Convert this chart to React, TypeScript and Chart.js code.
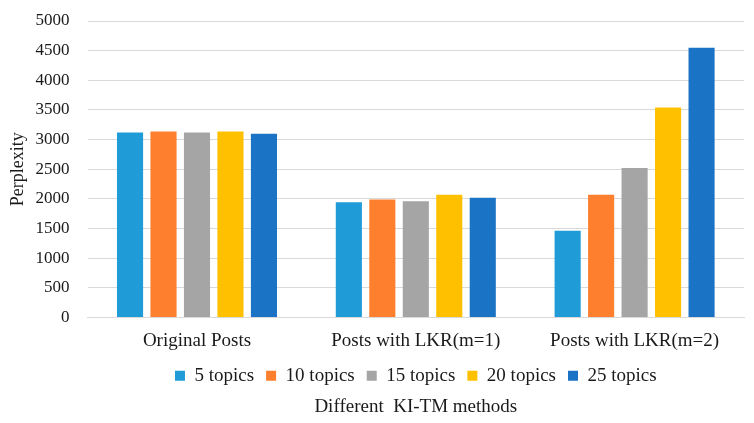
import Chart from "chart.js/auto";
import { useEffect, useRef } from "react";

const methods = ["Original Posts", "Posts with LKR(m=1)", "Posts with LKR(m=2)"];
const topicLabels = ["5 topics", "10 topics", "15 topics", "20 topics", "25 topics"];
const topics5 = [3118, 1943, 1460];
const topics10 = [3135, 1990, 2070];
const topics15 = [3118, 1960, 2520];
const topics20 = [3135, 2070, 3540];
const topics25 = [3100, 2020, 4550];
const colors = ["#1F9BD7", "#FE7F2D", "#A5A5A5", "#FFC000", "#1A73C5"];

const font = "'Liberation Serif', 'Times New Roman', serif";
const textColor = "#1a1a1a";

export default function App() {
  const canvasRef = useRef<HTMLCanvasElement>(null);

  useEffect(() => {
    document.body.style.margin = "0";
    if (!canvasRef.current) return;

    const series = [topics5, topics10, topics15, topics20, topics25];

    const chart = new Chart(canvasRef.current, {
      type: "bar",
      data: {
        labels: methods,
        datasets: series.map((values, i) => ({
          label: topicLabels[i],
          data: values,
          backgroundColor: colors[i],
          categoryPercentage: 0.765,
          barPercentage: 0.78,
        })),
      },
      options: {
        animation: false,
        responsive: false,
        layout: { padding: { top: 21, right: 10, left: 7, bottom: 5 } },
        scales: {
          x: {
            // tick padding is counted twice by Chart.js, so use tickLength for the gap
            grid: { display: false, drawTicks: true, tickLength: 10 },
            border: { color: "#D9D9D9" },
            ticks: { color: textColor, font: { family: font, size: 19 }, padding: 2 },
          },
          y: {
            min: 0,
            max: 5000,
            ticks: {
              stepSize: 500,
              color: textColor,
              font: { family: font, size: 17 },
              padding: 4,
              callback: (value) => `${value}`,
            },
            grid: { color: "#D9D9D9", drawTicks: true, tickLength: 14, tickColor: "transparent" },
            border: { display: false },
            title: {
              display: true,
              text: "Perplexity",
              color: textColor,
              font: { family: font, size: 18 },
              padding: { top: 0, bottom: 3 },
            },
          },
        },
        plugins: {
          legend: {
            position: "bottom",
            fullSize: false,
            labels: {
              boxWidth: 10,
              boxHeight: 10,
              padding: 12,
              color: textColor,
              font: { family: font, size: 19 },
            },
          },
          title: {
            display: true,
            position: "bottom",
            fullSize: false,
            text: "Different  KI-TM methods",
            color: textColor,
            font: { family: font, size: 19, weight: "normal" },
            padding: { top: 0, bottom: 0 },
          },
          tooltip: { enabled: false },
        },
      },
    });

    return () => {
      chart.destroy();
    };
  }, []);

  return (
    <div style={{ width: 754, height: 423, background: "#fff" }}>
      <canvas ref={canvasRef} width={754} height={423} />
    </div>
  );
}
